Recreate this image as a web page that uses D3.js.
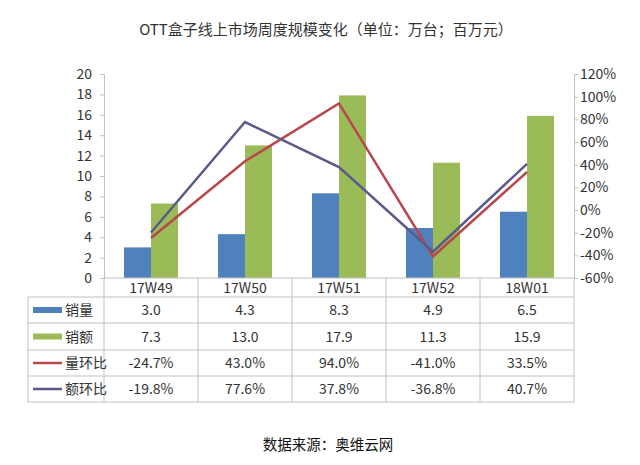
<!DOCTYPE html>
<html><head><meta charset="utf-8">
<script src="https://cdn.jsdelivr.net/npm/d3@7"></script>
<style>body{margin:0;background:#fff}svg{display:block}text{font-family:"Noto Sans CJK SC","Noto Sans",sans-serif}</style>
</head><body><svg id="c" width="640" height="465"></svg>
<script>
const categories = ["17W49","17W50","17W51","17W52","18W01"];
const salesVolume = [3.0,4.3,8.3,4.9,6.5];
const salesAmount = [7.3,13.0,17.9,11.3,15.9];
const volumeChange = [-24.7,43.0,94.0,-41.0,33.5];
const amountChange = [-19.8,77.6,37.8,-36.8,40.7];
const leftTicks = [0,2,4,6,8,10,12,14,16,18,20];
const rightTicks = [-60,-40,-20,0,20,40,60,80,100,120];
const seriesNames = ["销量","销额","量环比","额环比"];
const title = "OTT盒子线上市场周度规模变化（单位：万台；百万元）";
const source = "数据来源：奥维云网";

const colors = {vol:"#4f81bd", amt:"#9bbb59", vc:"#b8474b", ac:"#5b5a8a", grid:"#c0c0c0", text:"#333"};
const svg = d3.select("#c");
const L=104, R=574, T=74, B=278;
const x = d3.scaleBand().domain(categories).range([L,R]);
const yL = d3.scaleLinear().domain([0,20]).range([B,T]);
const yR = d3.scaleLinear().domain([-60,120]).range([B,T]);
const xs = d3.scaleBand().domain(["vol","amt"]).range([0,x.bandwidth()]).paddingOuter(0.74).paddingInner(0);

svg.append("text").attr("x",326).attr("y",35).attr("text-anchor","middle").attr("font-size",15).attr("fill",colors.text).text(title);

// axes
const la = svg.append("g").attr("transform",`translate(${L},0)`).call(d3.axisLeft(yL).tickValues(leftTicks).tickSize(4).tickPadding(8));
const ra = svg.append("g").attr("transform",`translate(${R},0)`).call(d3.axisRight(yR).tickValues(rightTicks).tickSize(4).tickPadding(2).tickFormat(d=>d+"%"));
[la,ra].forEach(g=>{g.selectAll("path,line").attr("stroke",colors.grid);g.selectAll("text").attr("font-size",14).attr("fill",colors.text).attr("font-family","'Open Sans','Noto Sans',sans-serif");});

// bars
const g = svg.append("g");
categories.forEach((c,i)=>{
  g.append("rect").attr("x",x(c)+xs("vol")).attr("width",xs.bandwidth()).attr("y",yL(salesVolume[i])).attr("height",B-yL(salesVolume[i])).attr("fill",colors.vol);
  g.append("rect").attr("x",x(c)+xs("amt")).attr("width",xs.bandwidth()).attr("y",yL(salesAmount[i])).attr("height",B-yL(salesAmount[i])).attr("fill",colors.amt);
});
const line = d3.line().x((d,i)=>x(categories[i])+x.bandwidth()/2).y(d=>yR(d));
svg.append("path").datum(volumeChange).attr("d",line).attr("fill","none").attr("stroke",colors.vc).attr("stroke-width",2.5);
svg.append("path").datum(amountChange).attr("d",line).attr("fill","none").attr("stroke",colors.ac).attr("stroke-width",2.5);

// table
const rowsY = [B,297,323,350,376,402];
const TL = 28;
const tg = svg.append("g");
const ln=(x1,y1,x2,y2)=>tg.append("line").attr("x1",x1).attr("y1",y1).attr("x2",x2).attr("y2",y2).attr("stroke",colors.grid).attr("stroke-width",1);
ln(L,B,R,B);
for(let r=1;r<rowsY.length;r++) ln(TL,rowsY[r],R,rowsY[r]);
ln(TL,rowsY[1],TL,rowsY[5]);
categories.forEach(c=>ln(x(c),B,x(c),rowsY[5]));
ln(R,B,R,rowsY[5]);
const numFont="'Open Sans','Noto Sans',sans-serif";
categories.forEach((c,i)=>{
  tg.append("text").attr("x",x(c)+x.bandwidth()/2).attr("y",(rowsY[0]+rowsY[1])/2+5).attr("text-anchor","middle").attr("font-size",14).attr("fill",colors.text).attr("font-family",numFont).text(c);
});
const rowData=[salesVolume.map(v=>v.toFixed(1)),salesAmount.map(v=>v.toFixed(1)),volumeChange.map(v=>v.toFixed(1)+"%"),amountChange.map(v=>v.toFixed(1)+"%")];
const keyColors=[colors.vol,colors.amt,colors.vc,colors.ac];
rowData.forEach((row,r)=>{
  const cy=(rowsY[r+1]+rowsY[r+2])/2;
  if(r<2) tg.append("rect").attr("x",33).attr("y",cy-3).attr("width",29).attr("height",6).attr("fill",keyColors[r]);
  else tg.append("line").attr("x1",33).attr("x2",62).attr("y1",cy).attr("y2",cy).attr("stroke",keyColors[r]).attr("stroke-width",2.5);
  tg.append("text").attr("x",65).attr("y",cy+5).attr("font-size",14).attr("fill",colors.text).text(seriesNames[r]);
  row.forEach((v,i)=>tg.append("text").attr("x",x(categories[i])+x.bandwidth()/2).attr("y",cy+5).attr("text-anchor","middle").attr("font-size",14).attr("fill",colors.text).attr("font-family",numFont).text(v));
});

svg.append("text").attr("x",328).attr("y",450).attr("text-anchor","middle").attr("font-size",14.5).attr("fill","#111").text(source);
</script></body></html>
